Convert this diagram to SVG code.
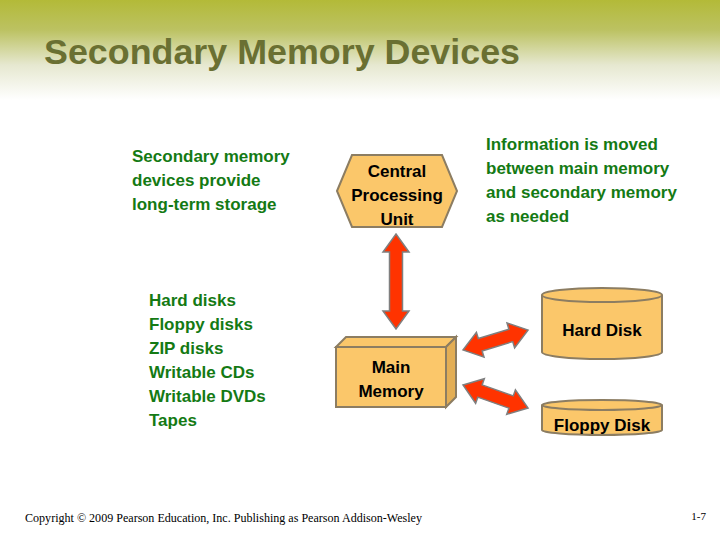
<svg xmlns="http://www.w3.org/2000/svg" width="720" height="540" viewBox="0 0 720 540">
<defs>
<linearGradient id="bg" x1="0" y1="0" x2="0" y2="1">
<stop offset="0" stop-color="#b3ba38"/>
<stop offset="0.3" stop-color="#bcc262"/>
<stop offset="0.65" stop-color="#e6e8d0"/>
<stop offset="1" stop-color="#ffffff"/>
</linearGradient>
<style>
.t{font-family:"Liberation Sans",Arial,sans-serif;font-weight:bold;font-size:17px}
.g{fill:#147a14}
.k{fill:#000}
.node{fill:#fbc76a;stroke:#8c7d62;stroke-width:2}
.side{fill:#e3ae55;stroke:#8c7d62;stroke-width:2}
.arr{fill:#ff3300;stroke:#7f7f7f;stroke-width:1.5}
</style>
</defs>
<rect width="720" height="540" fill="#fff"/>
<rect width="720" height="100" fill="url(#bg)"/>
<text x="44" y="64" font-family="Liberation Sans,Arial,sans-serif" font-weight="bold" font-size="35" fill="#6a7032" textLength="476" lengthAdjust="spacingAndGlyphs">Secondary Memory Devices</text>

<g id="note1" class="t g">
<text x="132" y="162">Secondary memory</text>
<text x="132" y="186">devices provide</text>
<text x="132" y="210">long-term storage</text>
</g>
<g id="note2" class="t g">
<text x="486" y="150">Information is moved</text>
<text x="486" y="174">between main memory</text>
<text x="486" y="198">and secondary memory</text>
<text x="486" y="222">as needed</text>
</g>
<g id="list" class="t g">
<text x="149" y="306">Hard disks</text>
<text x="149" y="330">Floppy disks</text>
<text x="149" y="354">ZIP disks</text>
<text x="149" y="378">Writable CDs</text>
<text x="149" y="402">Writable DVDs</text>
<text x="149" y="426">Tapes</text>
</g>

<g id="cpu">
<polygon class="node" points="337,191 352,155 442,155 457,191 442,227 352,227"/>
<g class="t k" text-anchor="middle">
<text x="397" y="177">Central</text>
<text x="397" y="201">Processing</text>
<text x="397" y="225">Unit</text>
</g>
</g>

<g id="main-memory">
<polygon class="node" points="336,347 346,337 456,337 446,347"/>
<polygon class="side" points="446,347 456,337 456,397 446,407"/>
<rect class="node" x="336" y="347" width="110" height="60"/>
<g class="t k" text-anchor="middle">
<text x="391" y="373">Main</text>
<text x="391" y="397">Memory</text>
</g>
</g>

<g id="hard-disk">
<path class="node" d="M542,295 L542,352 A60,7 0 0 0 662,352 L662,295"/>
<ellipse class="node" cx="602" cy="295" rx="60" ry="7"/>
<text class="t k" x="602" y="336" text-anchor="middle">Hard Disk</text>
</g>

<g id="floppy-disk">
<path class="node" d="M542,405 L542,430 A60,5 0 0 0 662,430 L662,405"/>
<ellipse class="node" cx="602" cy="405" rx="60" ry="5"/>
<text class="t k" x="602" y="431" text-anchor="middle">Floppy Disk</text>
</g>

<g id="connectors">
<polygon class="arr" points="396,234 409,252 402.5,252 402.5,311 409,311 396,329 383,311 389.5,311 389.5,252 383,252"/>
<g transform="translate(463,350) rotate(-17)">
<polygon class="arr" points="0,0 18,-13 18,-6.5 50,-6.5 50,-13 68,0 50,13 50,6.5 18,6.5 18,13"/>
</g>
<g transform="translate(463,385) rotate(19.5)">
<polygon class="arr" points="0,0 18,-13 18,-6.5 51,-6.5 51,-13 69,0 51,13 51,6.5 18,6.5 18,13"/>
</g>
</g>

<text x="25" y="522" font-family="Liberation Serif,Times New Roman,serif" font-size="12.5" fill="#000" textLength="397" lengthAdjust="spacingAndGlyphs">Copyright © 2009 Pearson Education, Inc. Publishing as Pearson Addison-Wesley</text>
<text x="706" y="520" font-family="Liberation Serif,Times New Roman,serif" font-size="11" fill="#000" text-anchor="end">1-7</text>
</svg>
